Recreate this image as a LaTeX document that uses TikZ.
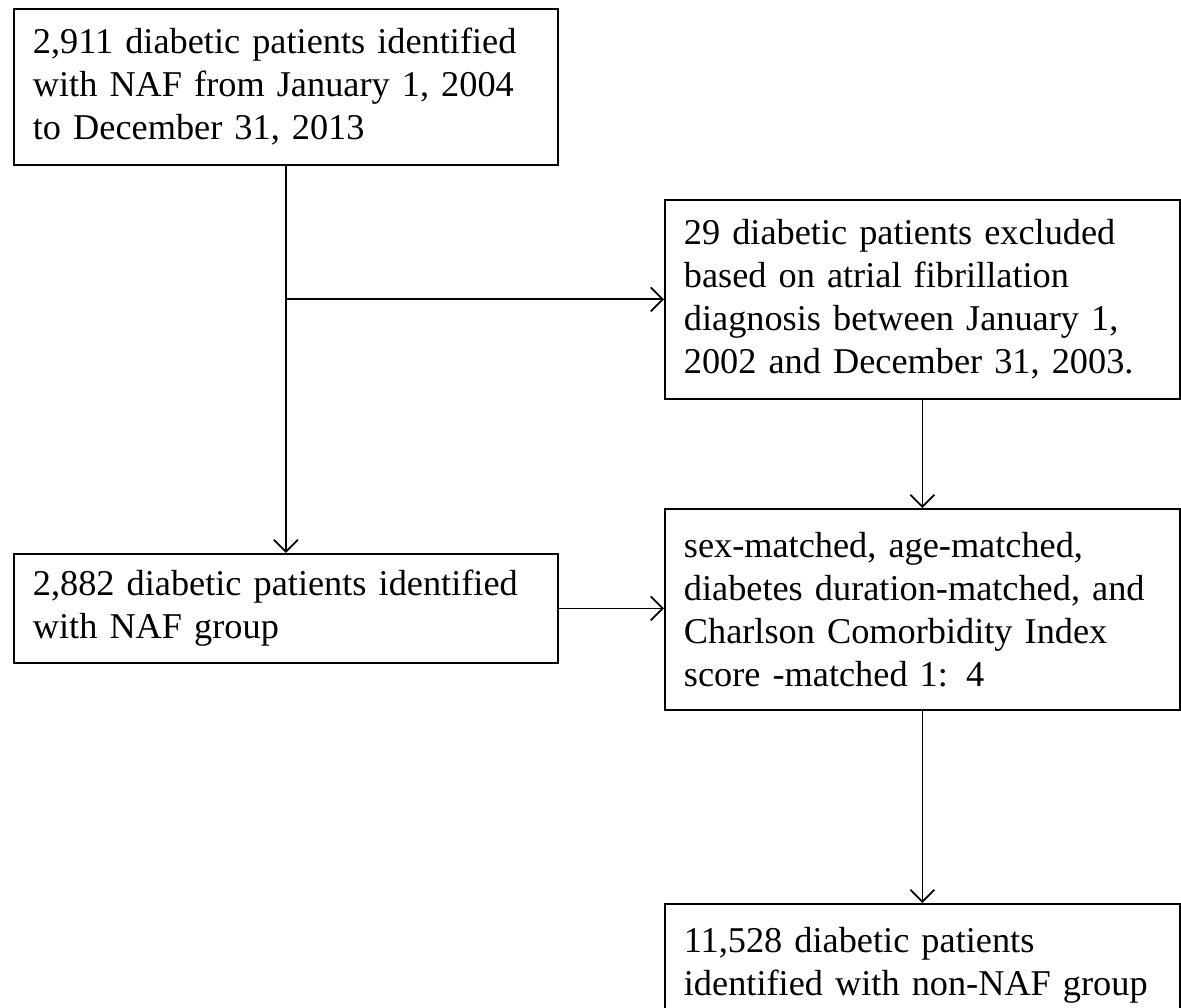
\documentclass[tikz,border=0pt]{standalone}
\usepackage{fontspec}
\setmainfont{Liberation Serif}
\usetikzlibrary{arrows.meta}
\begin{document}
\begin{tikzpicture}[x=1pt,y=-1pt,
  box/.style={draw, line width=1.8pt, anchor=north west, inner xsep=19pt, inner ysep=0pt,
    align=left, font=\fontsize{36.3}{43}\selectfont},
  conn/.style={line width=1.8pt, -{Straight Barb[length=12pt,width=24pt,line width=1.8pt]}}]
\useasboundingbox (0,0) rectangle (1181,1008);
\clip (0,0) rectangle (1181,1008);
\fill[white] (0,0) rectangle (1181,1008);
\node[box, text width=506pt, minimum height=156pt] (b1) at (13,8)
  {2,911 diabetic patients identified\\with NAF from January 1, 2004\\to December 31, 2013};
\node[box, text width=477pt, minimum height=199pt] (b2) at (664,199)
  {29 diabetic patients excluded\\based on atrial fibrillation\\diagnosis between January 1,\\2002 and December 31, 2003.};
\node[box, text width=506pt, minimum height=109pt] (b3) at (13,553)
  {2,882 diabetic patients identified\\with NAF group};
\node[box, text width=477pt, minimum height=201pt] (b4) at (664,508)
  {sex-matched, age-matched,\\diabetes duration-matched, and\\Charlson Comorbidity Index\\score -matched 1: 4};
\node[box, text width=477pt, minimum height=122pt] (b5) at (664,903)
  {11,528 diabetic patients\\identified with non-NAF group};
\coordinate (j) at (b1.south |- b2.west);
\draw[conn] (b1.south) -- (b1.south |- b3.north);
\draw[conn] (j) -- (b2.west);
\draw[conn] (b2.south) -- (b4.north);
\draw[conn] (b3.east) -- (b3.east -| b4.west);
\draw[conn] (b4.south) -- (b5.north);
\end{tikzpicture}
\end{document}
